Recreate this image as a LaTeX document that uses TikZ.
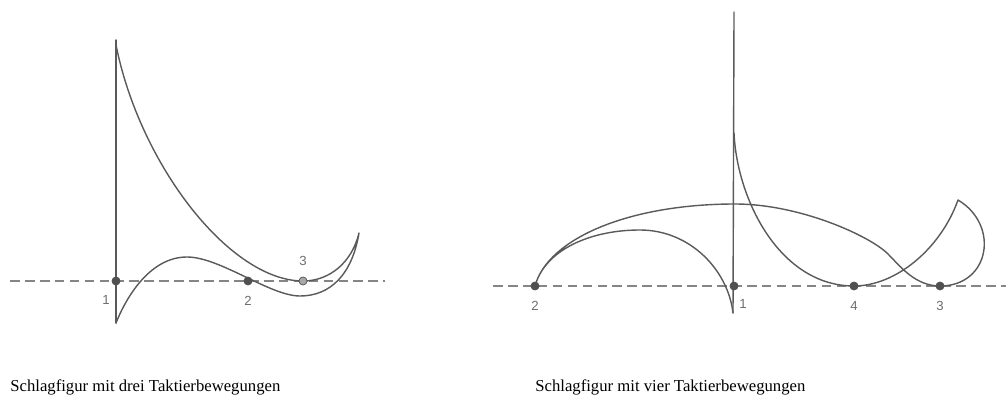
\documentclass[tikz,border=0pt]{standalone}
\usepackage{fontspec}
\setmainfont{Liberation Serif}
\newfontfamily\sfdigits{Liberation Sans}
\usepackage{xcolor}
\definecolor{sfink}{HTML}{5A5A5A}
\definecolor{sfdash}{HTML}{858585}
\definecolor{sfdot}{HTML}{505050}
\definecolor{sfmuted}{HTML}{6E6E6E}
\usetikzlibrary{positioning}
\tikzset{
  sfcurve/.style={draw=sfink, line width=0.8pt, line cap=round, line join=round},
  sfbase/.style ={draw=sfdash, line width=1.1pt, dash pattern=on 5.5pt off 3pt},
  sfbeat/.style ={circle, fill=sfdot, draw=sfdot, inner sep=0pt, minimum size=4.6pt},
  sfnum/.style  ={font=\sfdigits\fontsize{7.5}{9}\selectfont, text=sfmuted, inner sep=0pt},
  sfcap/.style  ={font=\fontsize{9.5}{11}\selectfont, text=black, inner sep=0pt, anchor=base west},
}

\begin{document}
\begin{tikzpicture}[x=0.02cm, y=-0.02cm]
  \useasboundingbox (0,0) rectangle (1006,405);

  % three beats
  \coordinate (ltop) at (116,40);
  \coordinate (lbot) at (116,323);
  \coordinate (ltip) at (359,233);
  \coordinate (lmin) at (300,296);
  \coordinate (lhump) at (187,257);
  \draw[sfbase] (10,281) -- (385,281);
  \draw[sfcurve] (lbot) -- (ltop);
  \draw[sfcurve] (116,45) .. controls (140,165) and (230,281) .. (303,281)
    .. controls (330,281) and (352,262) .. (ltip)
    .. controls (352,275) and (330,296) .. (lmin)
    .. controls (270,296) and (220,257) .. (lhump)
    .. controls (152,257) and (128,293) .. (lbot);
  \node[sfbeat] (l1) at (116,281) {};
  \node[sfbeat] (l2) at (248,281) {};
  \node[sfbeat, fill=sfmuted!60] (l3) at (303,281) {};
  \node[sfnum] (l1n) at (106,300) {1};
  \node[sfnum, below=6pt of l2] (l2n) {2};
  \node[sfnum, above=6pt of l3] (l3n) {3};
  \node[sfcap] (lcap) at (10,391) {Schlagfigur mit drei Taktierbewegungen};

  % four beats
  \coordinate (rtop) at (734,12);
  \coordinate (rbot) at (733,313);
  \coordinate (rtip) at (958,200);
  \coordinate (rarc) at (735,204);
  \coordinate (rin) at (640,230);
  \draw[sfbase] (493,286) -- (1006,286);
  \draw[sfcurve] (rbot) -- (rtop);
  \draw[sfcurve] (734,133) .. controls (737,200) and (780,286) .. (854,286)
    .. controls (895,286) and (940,250) .. (rtip)
    .. controls (1000,225) and (990,286) .. (940,286)
    .. controls (915,286) and (900,266) .. (888,254)
    .. controls (870,236) and (800,204) .. (rarc)
    .. controls (630,204) and (548,238) .. (535,286)
    .. controls (545,250) and (590,230) .. (rin)
    .. controls (690,230) and (728,270) .. (rbot);
  \node[sfbeat] (r2) at (535,286) {};
  \node[sfbeat] (r1) at (734,286) {};
  \node[sfbeat] (r4) at (854,286) {};
  \node[sfbeat] (r3) at (940,286) {};
  \node[sfnum, below=6pt of r2] (r2n) {2};
  \node[sfnum] (r1n) at (743,304) {1};
  \node[sfnum, below=6pt of r4] (r4n) {4};
  \node[sfnum, below=6pt of r3] (r3n) {3};
  \node[sfcap] (rcap) at (535,391) {Schlagfigur mit vier Taktierbewegungen};
\end{tikzpicture}
\end{document}
